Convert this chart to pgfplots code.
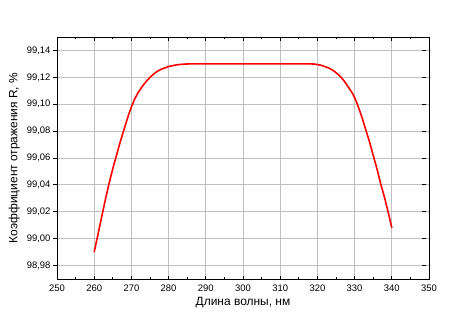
\documentclass[border=0pt]{standalone}
\usepackage{fontspec}
\setmainfont{Liberation Sans}
\usepackage{pgfplots}
\pgfplotsset{compat=1.18}
\definecolor{gridgray}{RGB}{192,192,192}
\begin{document}
\begin{tikzpicture}
\begin{axis}[
  at={(0,0)}, anchor=south west,
  scale only axis,
  width=372bp, height=242bp,
  xmin=250, xmax=350, ymin=98.97, ymax=99.15,
  xtick={250,260,...,350},
  ytick={98.98,99.00,...,99.14},
  minor x tick num=1, minor y tick num=1,
  tick align=inside,
  major tick length=3.5bp, minor tick length=2bp,
  every major y tick/.append style={xshift=-3.5bp},
  every minor y tick/.append style={xshift=-2bp},
  tick style={black, line width=0.8bp},
  xmajorgrids, ymajorgrids,
  major grid style={gridgray, line width=0.9bp},
  axis line style={black, line width=0.9bp},
  /pgf/number format/assume math mode=true,
  yticklabel style={/pgf/number format/.cd, fixed, fixed zerofill, precision=2, use comma},
  xticklabel style={/pgf/number format/.cd, fixed, precision=0, 1000 sep={}},
  tick label style={font=\fontsize{9.5}{10}\selectfont},
  label style={font=\fontsize{12}{13}\selectfont},
  xlabel={Длина волны, нм},
  ylabel={Коэффициент отражения R, \%},
  xticklabel shift=2bp,
  yticklabel shift=3bp,
  xlabel shift=-1bp,
]
\addplot[red, line width=1.6bp, smooth, tension=0.5] coordinates {
(260,98.990) (261,99.003) (262,99.016) (263,99.029) (264,99.041) (265,99.052)
(266,99.062) (267,99.072) (268,99.081) (269,99.090) (270,99.098) (271,99.1045)
(272,99.1095) (273,99.1135) (274,99.117) (275,99.120) (276,99.1225) (277,99.1245)
(278,99.126) (279,99.127) (280,99.128) (282,99.1292) (284,99.1298) (286,99.130)
(290,99.130) (300,99.130) (310,99.130) (318,99.130) (320,99.1295) (321,99.129)
(322,99.128) (323,99.127) (324,99.1255) (325,99.1235) (326,99.121) (327,99.118)
(328,99.114) (329,99.110) (330,99.105) (331,99.098) (332,99.090) (333,99.081)
(334,99.072) (335,99.062) (336,99.052) (337,99.041) (338,99.031) (339,99.020)
(340,99.008)
};
\end{axis}
\useasboundingbox (-57bp,-51bp) rectangle (393bp,279bp);
\end{tikzpicture}
\end{document}
